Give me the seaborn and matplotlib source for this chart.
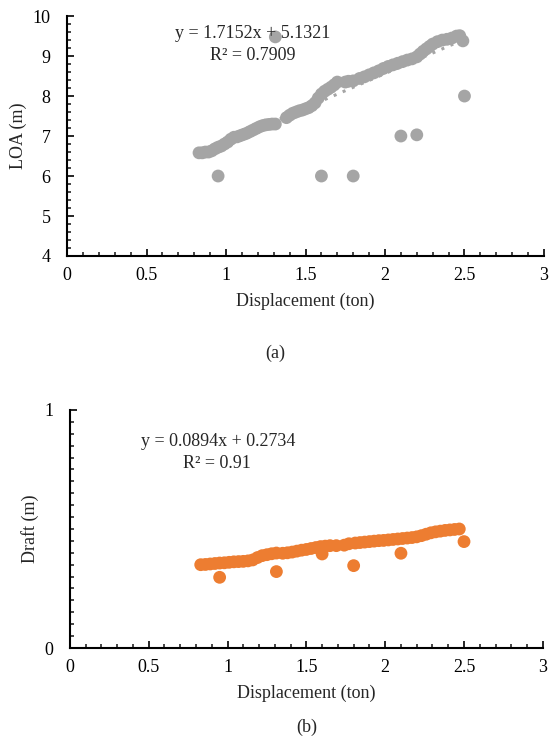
import numpy as np
import pandas as pd
import matplotlib
matplotlib.use("Agg")
import matplotlib.pyplot as plt
from matplotlib.ticker import MultipleLocator
import seaborn as sns

sns.set_style("ticks")
plt.rcParams["font.family"] = ["Liberation Serif", "DejaVu Serif"]

# (a) LOA vs displacement
loa_disp = [0.83, 0.85, 0.87, 0.89, 0.91, 0.93, 0.95, 0.97, 0.99, 1.01,
            1.03, 1.05, 1.07, 1.09, 1.11, 1.13, 1.15, 1.17, 1.19, 1.21,
            1.23, 1.25, 1.27, 1.29, 1.31, 1.38, 1.40, 1.42, 1.44, 1.46,
            1.48, 1.50, 1.52, 1.54, 1.56, 1.58, 1.60, 1.62, 1.64, 1.66,
            1.68, 1.70, 1.75, 1.77, 1.80, 1.84, 1.87, 1.90, 1.93, 1.96,
            1.99, 2.02, 2.05, 2.08, 2.11, 2.14, 2.17, 2.20, 2.22, 2.24,
            2.26, 2.28, 2.30, 2.33, 2.36, 2.39, 2.42, 2.45, 2.47, 2.49,
            0.95, 1.31, 1.60, 1.80, 2.10, 2.20, 2.50]
loa = [6.58, 6.58, 6.60, 6.60, 6.63, 6.68, 6.72, 6.75, 6.80, 6.85,
       6.92, 6.97, 6.98, 7.01, 7.04, 7.07, 7.11, 7.15, 7.19, 7.23,
       7.26, 7.28, 7.29, 7.30, 7.30, 7.46, 7.52, 7.57, 7.60, 7.63,
       7.65, 7.68, 7.71, 7.76, 7.83, 7.95, 8.05, 8.12, 8.17, 8.22,
       8.28, 8.35, 8.35, 8.37, 8.38, 8.44, 8.48, 8.53, 8.58, 8.63,
       8.69, 8.74, 8.78, 8.82, 8.86, 8.90, 8.93, 8.98, 9.05, 9.12,
       9.18, 9.24, 9.30, 9.36, 9.40, 9.42, 9.45, 9.50, 9.51, 9.38,
       6.00, 9.48, 6.00, 6.00, 7.00, 7.03, 8.00]
loa_fit = (1.7152, 5.1321, "0.7909")

# (b) Draft vs displacement
draft_disp = [0.83, 0.86, 0.89, 0.92, 0.95, 0.98, 1.01, 1.04, 1.07, 1.10,
              1.13, 1.16, 1.19, 1.22, 1.25, 1.28, 1.31, 1.35, 1.38, 1.41,
              1.44, 1.47, 1.50, 1.53, 1.56, 1.59, 1.62, 1.65, 1.69, 1.74,
              1.77, 1.81, 1.84, 1.87, 1.90, 1.93, 1.96, 1.99, 2.02, 2.05,
              2.08, 2.11, 2.14, 2.17, 2.20, 2.23, 2.26, 2.29, 2.32, 2.35,
              2.38, 2.41, 2.44, 2.47,
              0.95, 1.31, 1.60, 1.80, 2.10, 2.50]
draft = [0.350, 0.351, 0.353, 0.355, 0.357, 0.358, 0.360, 0.362, 0.363, 0.364,
         0.366, 0.370, 0.380, 0.388, 0.392, 0.396, 0.399, 0.398, 0.400, 0.403,
         0.407, 0.411, 0.414, 0.418, 0.422, 0.426, 0.428, 0.430, 0.430, 0.432,
         0.438, 0.441, 0.443, 0.445, 0.447, 0.449, 0.451, 0.452, 0.454, 0.456,
         0.458, 0.460, 0.462, 0.464, 0.467, 0.472, 0.478, 0.484, 0.488, 0.491,
         0.494, 0.496, 0.498, 0.500,
         0.297, 0.321, 0.395, 0.346, 0.398, 0.447]
draft_fit = (0.0894, 0.2734, "0.91")

GRAY = "#A5A5A5"
ORANGE = "#ED7D31"
FS = 13


def style_axes(ax, ylim, ymajor, yminor, ylabel):
    ax.set_xlim(0, 3)
    ax.set_ylim(*ylim)
    ax.xaxis.set_major_locator(MultipleLocator(0.5))
    ax.xaxis.set_minor_locator(MultipleLocator(0.1))
    ax.yaxis.set_major_locator(MultipleLocator(ymajor))
    ax.yaxis.set_minor_locator(MultipleLocator(yminor))
    ax.xaxis.set_major_formatter(lambda v, p: f"{v:g}")
    ax.tick_params(which="major", direction="in", length=5, width=1.2,
                   labelsize=FS, colors="black")
    ax.tick_params(which="minor", direction="in", length=3, width=1.2)
    ax.tick_params(axis="x", pad=8)
    ax.tick_params(axis="y", pad=12)
    for s in ("top", "right"):
        ax.spines[s].set_visible(False)
    for s in ("left", "bottom"):
        ax.spines[s].set_linewidth(1.5)
        ax.spines[s].set_color("black")
    ax.set_xlabel("Displacement (ton)", fontsize=FS, labelpad=6)
    ax.set_ylabel(ylabel, fontsize=FS)


def draw_panel(ax, x, y, fit, color):
    df = pd.DataFrame({"x": x, "y": y})
    xs = np.array([min(x), max(x)])
    ax.plot(xs, fit[0] * xs + fit[1], color=color, lw=2.2, ls=(0, (1, 2.2)),
            zorder=1)
    sns.scatterplot(data=df, x="x", y="y", ax=ax, color=color, s=85,
                    edgecolor="none", zorder=2)


fig = plt.figure(figsize=(5.5, 7.45), dpi=100)
ax1 = fig.add_axes([0.122, 0.6564, 0.867, 0.322])
ax2 = fig.add_axes([0.127, 0.1302, 0.860, 0.3195])

draw_panel(ax1, loa_disp, loa, loa_fit, GRAY)
style_axes(ax1, (4, 10), 1, 0.2, "LOA (m)")
ax1.text(253, 745 - 33, f"y = {loa_fit[0]}x + {loa_fit[1]}", transform=None,
         ha="center", va="center", fontsize=FS)
ax1.text(253, 745 - 55, f"R² = {loa_fit[2]}", transform=None,
         ha="center", va="center", fontsize=FS)

draw_panel(ax2, draft_disp, draft, draft_fit, ORANGE)
style_axes(ax2, (0, 1), 1, 0.05, "Draft (m)")
ax2.text(218, 745 - 442, f"y = {draft_fit[0]}x + {draft_fit[1]}",
         transform=None, ha="center", va="center", fontsize=FS)
ax2.text(217, 745 - 463, f"R² = {draft_fit[2]}", transform=None,
         ha="center", va="center", fontsize=FS)

fig.text(275 / 550, 1 - 353 / 745, "(a)", ha="center", va="center", fontsize=FS)
fig.text(307 / 550, 1 - 727 / 745, "(b)", ha="center", va="center", fontsize=FS)

fig.savefig("out.png", dpi=100)
plt.close(fig)
